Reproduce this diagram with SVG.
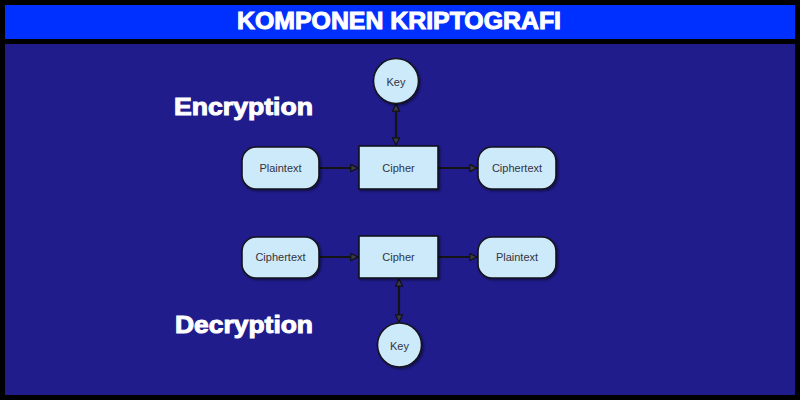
<svg xmlns="http://www.w3.org/2000/svg" width="800" height="400" viewBox="0 0 800 400">
  <defs>
    <marker id="arr" viewBox="0 0 10 10" refX="9" refY="5" markerWidth="9" markerHeight="9" markerUnits="userSpaceOnUse" orient="auto-start-reverse">
      <path d="M1,1 L9,5 L1,9 Z" fill="#3a3a4a" stroke="#111" stroke-width="1.3"/>
    </marker>
    <filter id="sh" x="-20%" y="-20%" width="150%" height="150%">
      <feDropShadow dx="1.5" dy="1.5" stdDeviation="1" flood-color="#000" flood-opacity="0.45"/>
    </filter>
  </defs>
  <style>
    .node { fill: #cdeafb; stroke: #15151f; stroke-width: 1.6; filter: url(#sh); }
    .lbl { font-family: "Liberation Sans", Arial, sans-serif; font-size: 11px; fill: #333340; text-anchor: middle; dominant-baseline: central; }
    .head { font-family: "Liberation Sans", Arial, sans-serif; font-weight: bold; font-size: 24px; fill: #ffffff; stroke: #ffffff; stroke-width: 1; }
    .conn { stroke: #141414; stroke-width: 2.2; fill: none; }
  </style>

  <rect x="0" y="0" width="800" height="400" fill="#000"/>
  <rect x="5" y="5" width="790" height="34" fill="#0030ff"/>
  <rect x="5" y="44" width="790" height="351" fill="#201c8c"/>

  <text x="399" y="29" class="head" text-anchor="middle" textLength="324" lengthAdjust="spacingAndGlyphs">KOMPONEN KRIPTOGRAFI</text>
  <text x="174" y="115" class="head" textLength="139" lengthAdjust="spacingAndGlyphs">Encryption</text>
  <text x="175" y="333" class="head" textLength="138" lengthAdjust="spacingAndGlyphs">Decryption</text>

  <g id="connectors">
    <line class="conn" x1="319" y1="168" x2="358" y2="168" marker-end="url(#arr)"/>
    <line class="conn" x1="438" y1="168" x2="477" y2="168" marker-end="url(#arr)"/>
    <line class="conn" x1="396" y1="104" x2="396" y2="145" marker-start="url(#arr)" marker-end="url(#arr)"/>
    <line class="conn" x1="319" y1="257" x2="358" y2="257" marker-end="url(#arr)"/>
    <line class="conn" x1="438" y1="257" x2="477" y2="257" marker-end="url(#arr)"/>
    <line class="conn" x1="399" y1="279" x2="399" y2="322" marker-start="url(#arr)" marker-end="url(#arr)"/>
  </g>

  <g id="enc-key">
    <circle class="node" cx="396" cy="81" r="22.5"/>
    <text class="lbl" x="396" y="82">Key</text>
  </g>
  <g id="enc-plaintext">
    <rect class="node" x="242" y="147" width="77" height="42" rx="14"/>
    <text class="lbl" x="280.5" y="168">Plaintext</text>
  </g>
  <g id="enc-cipher">
    <rect class="node" x="359" y="146" width="79" height="43"/>
    <text class="lbl" x="398.5" y="168">Cipher</text>
  </g>
  <g id="enc-ciphertext">
    <rect class="node" x="478" y="147" width="78" height="42" rx="14"/>
    <text class="lbl" x="517" y="168">Ciphertext</text>
  </g>

  <g id="dec-ciphertext">
    <rect class="node" x="242" y="237" width="77" height="41" rx="14"/>
    <text class="lbl" x="280.5" y="257">Ciphertext</text>
  </g>
  <g id="dec-cipher">
    <rect class="node" x="359" y="236" width="79" height="42"/>
    <text class="lbl" x="398.5" y="257">Cipher</text>
  </g>
  <g id="dec-plaintext">
    <rect class="node" x="478" y="237" width="78" height="41" rx="14"/>
    <text class="lbl" x="517" y="257">Plaintext</text>
  </g>
  <g id="dec-key">
    <circle class="node" cx="399.5" cy="345" r="22"/>
    <text class="lbl" x="399.5" y="346">Key</text>
  </g>
</svg>
